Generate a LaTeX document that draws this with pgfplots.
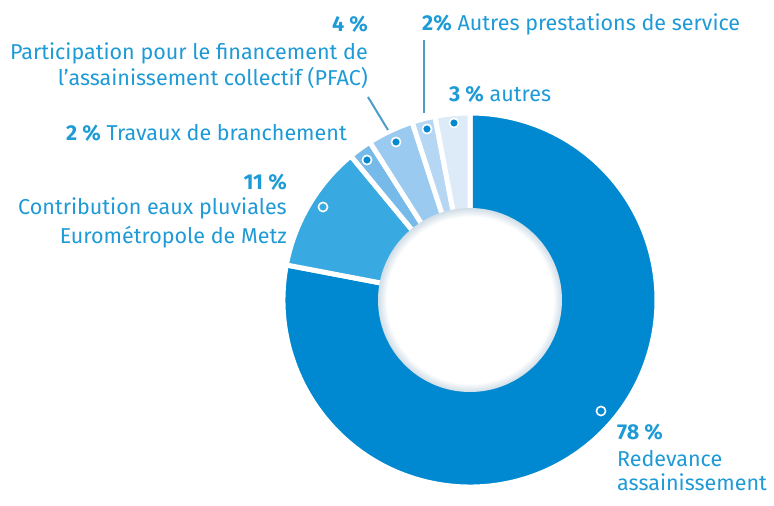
\documentclass[border=0pt]{standalone}
\usepackage{pgfplots}
\pgfplotsset{compat=1.18}
\usepackage{fontspec}
\setmainfont{Fira Sans}

\definecolor{c78}{HTML}{0089D1}
\definecolor{c11}{HTML}{38A9E1}
\definecolor{c2t}{HTML}{76BAE9}
\definecolor{c4}{HTML}{9ACAEF}
\definecolor{c2ap}{HTML}{B6D7F3}
\definecolor{c3}{HTML}{DDEBF9}
\definecolor{txt}{HTML}{1E9AD6}
\definecolor{lead}{HTML}{4C9DC9}
\definecolor{holeedge}{HTML}{D0DDE7}

\pgfdeclareradialshading{hole}{\pgfpointorigin}{%
  color(0bp)=(white); color(22.6bp)=(white); color(25bp)=(holeedge); color(50bp)=(holeedge)}

\tikzset{lab/.style={font=\fontsize{21.6}{26}\selectfont, text=txt, inner sep=0pt}}

% slice: #1 = share already placed (%), #2 = share (%), #3 = colour
\newcommand{\slice}[3]{%
  \fill[#3, draw=white, line width=5bp] (axis cs:0,0) -- ++({90-3.6*(#1+#2)}:187bp)
    arc[start angle={90-3.6*(#1+#2)}, end angle={90-3.6*(#1)}, radius=187bp] -- cycle;}

\begin{document}
\begin{tikzpicture}
\begin{axis}[
  x=1bp, y=1bp,
  xmin=-470, xmax=304, ymin=-194, ymax=300,
  scale only axis, hide axis, clip=false,
  disabledatascaling,
]
% keep the full frame in the bounding box
\path (axis cs:-470,-194) rectangle (axis cs:304,300);

% shares, clockwise from 12 o'clock
\slice{0}{78}{c78}
\slice{78}{11}{c11}
\slice{89}{2}{c2t}
\slice{91}{4}{c4}
\slice{95}{2}{c2ap}
\slice{97}{3}{c3}

\shade[shading=hole] (axis cs:0,0) circle[radius=92bp];

% leader lines
\addplot[lead, line width=2bp, no marks] coordinates {(-102,203) (-82,170)};
\addplot[lead, line width=2bp, no marks] coordinates {(-46,260) (-46,187)};

% dots on the slices
\addplot[white, only marks, mark=*, mark size=5.2, mark options={fill=white, draw=none}]
  coordinates {(131,-111) (-147,93) (-103,140) (-74,158) (-43,171) (-16,177)};
\addplot[c78, only marks, mark=*, mark size=3.3, mark options={fill=c78, draw=none}]
  coordinates {(131,-111) (-103,140) (-74,158) (-43,171) (-16,177)};
\addplot[c11, only marks, mark=*, mark size=3.3, mark options={fill=c11, draw=none}]
  coordinates {(-147,93)};

% labels
\node[lab, anchor=base east] at (axis cs:-102,268) {\textbf{4 \%}};
\node[lab, anchor=base east] at (axis cs:-102,240) {Participation pour le financement de};
\node[lab, anchor=base east] at (axis cs:-102,214) {l’assainissement collectif (PFAC)};
\node[lab, anchor=base east] at (axis cs:-123,159) {\textbf{2 \%} Travaux de branchement};
\node[lab, anchor=base east] at (axis cs:-183,110) {\textbf{11 \%}};
\node[lab, anchor=base east] at (axis cs:-183,85) {Contribution eaux pluviales};
\node[lab, anchor=base east] at (axis cs:-183,57) {Eurométropole de Metz};
\node[lab, anchor=base west] at (axis cs:-48,269) {\textbf{2\%} Autres prestations de service};
\node[lab, anchor=base west] at (axis cs:-21,198) {\textbf{3 \%} autres};
\node[lab, anchor=base west] at (axis cs:147,-139) {\textbf{78 \%}};
\node[lab, anchor=base west] at (axis cs:147,-166) {Redevance};
\node[lab, anchor=base west] at (axis cs:147,-190) {assainissement};
\end{axis}
\end{tikzpicture}
\end{document}
